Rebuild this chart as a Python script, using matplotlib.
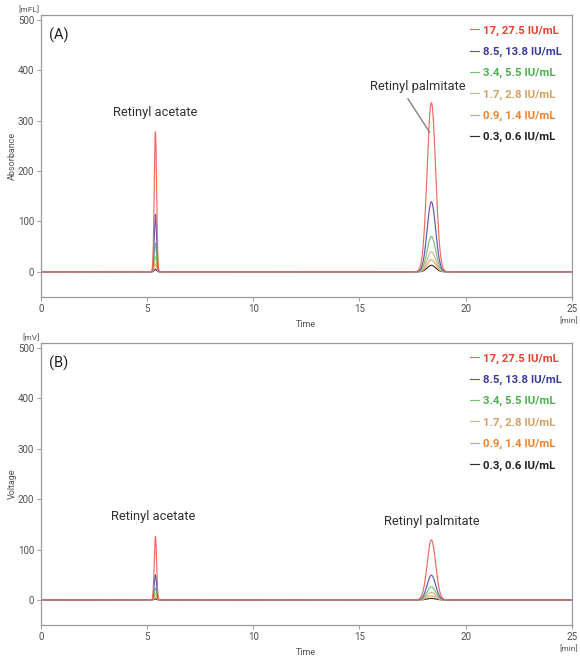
import numpy as np
import matplotlib.pyplot as plt

plt.rcParams.update({
    "font.family": ["Roboto", "DejaVu Sans"],
})

# concentrations (retinyl acetate, retinyl palmitate)
labels = ["17, 27.5 IU/mL", "8.5, 13.8 IU/mL", "3.4, 5.5 IU/mL",
          "1.7, 2.8 IU/mL", "0.9, 1.4 IU/mL", "0.3, 0.6 IU/mL"]
line_colors = ["#f06a64", "#5a5ab4", "#74c074", "#d2b48a", "#f4a05c", "#303030"]
text_colors = ["#e8402c", "#3c3c9c", "#4cb04c", "#d4a064", "#f08030", "#202020"]

# peak table: retention time (min), width sigma (min)
rt_acetate = 5.39
rt_palmitate = 18.39
sig_acetate = 0.055
sig_palmitate = 0.20

# panel A (absorbance, mFL) peak heights per level
abs_acetate = [278, 114, 57, 30, 16, 5]
abs_palmitate = [336, 139, 70, 40, 24, 13]
# panel B (voltage, mV)
volt_acetate = [126, 50, 24, 13, 7, 2]
volt_palmitate = [119, 49, 26, 15, 8, 3]

t = np.linspace(0, 25, 2501)


def trace(h_ace, h_pal):
    return (h_ace * np.exp(-0.5 * ((t - rt_acetate) / sig_acetate) ** 2)
            + h_pal * np.exp(-0.5 * ((t - rt_palmitate) / sig_palmitate) ** 2))


def style_axis(ax, ylabel, unit):
    ax.set_xlim(0, 25)
    ax.set_ylim(-50, 510)
    ax.set_xticks([0, 5, 10, 15, 20, 25])
    ax.set_yticks([0, 100, 200, 300, 400, 500])
    for s in ax.spines.values():
        s.set_color("#9a9a9a")
        s.set_linewidth(0.9)
    ax.tick_params(direction="out", length=3, width=0.7, color="#9a9a9a",
                   labelsize=7, labelcolor="#505050", pad=2)
    ax.set_xlabel("Time", fontsize=6.5, color="#505050", labelpad=4)
    ax.set_ylabel(ylabel, fontsize=6.5, color="#505050")
    ax.yaxis.set_label_coords(-0.045, 0.5)
    ax.text(-0.002, 1.005, unit, transform=ax.transAxes, ha="right", va="bottom",
            fontsize=6, color="#505050")
    ax.text(0.995, -0.07, "[min]", transform=ax.transAxes, ha="center", va="top",
            fontsize=6, color="#505050")


def draw(ax, acetate, palmitate, panel, ylabel, unit):
    # smallest level drawn first so the big red trace sits on top
    for i in reversed(range(len(labels))):
        ax.plot(t, trace(acetate[i], palmitate[i]), color=line_colors[i],
                linewidth=0.85, label=labels[i])
    handles, labs = ax.get_legend_handles_labels()
    leg = ax.legend(handles[::-1], labs[::-1], loc="upper right", frameon=False,
                    handlelength=0.8, handletextpad=0.3, labelspacing=0.97,
                    borderaxespad=0.5, prop={"size": 8.2, "weight": "bold"})
    for txt, c in zip(leg.get_texts(), text_colors):
        txt.set_color(c)
    ax.text(0.015, 0.955, panel, transform=ax.transAxes, ha="left", va="top",
            fontsize=10.5, color="#202020")
    style_axis(ax, ylabel, unit)


fig = plt.figure(figsize=(5.8, 6.58), dpi=100)
axA = fig.add_axes([0.0707, 0.5486, 0.915, 0.4286])
axB = fig.add_axes([0.0707, 0.0500, 0.915, 0.4286])

draw(axA, abs_acetate, abs_palmitate, "(A)", "Absorbance", "[mFL]")
draw(axB, volt_acetate, volt_palmitate, "(B)", "Voltage", "[mV]")

axA.text(5.37, 304, "Retinyl acetate", ha="center", va="bottom", fontsize=9.3, color="#303030")
axA.text(17.75, 356, "Retinyl palmitate", ha="center", va="bottom", fontsize=9.3, color="#303030")
axA.annotate("", xy=(18.31, 277), xytext=(17.28, 344),
             arrowprops=dict(arrowstyle="-", color="#808080", lw=1.0,
                             shrinkA=0, shrinkB=0))
axB.text(5.27, 152, "Retinyl acetate", ha="center", va="bottom", fontsize=9.3, color="#303030")
axB.text(18.41, 143, "Retinyl palmitate", ha="center", va="bottom", fontsize=9.3, color="#303030")

fig.savefig("out.png", dpi=100)
